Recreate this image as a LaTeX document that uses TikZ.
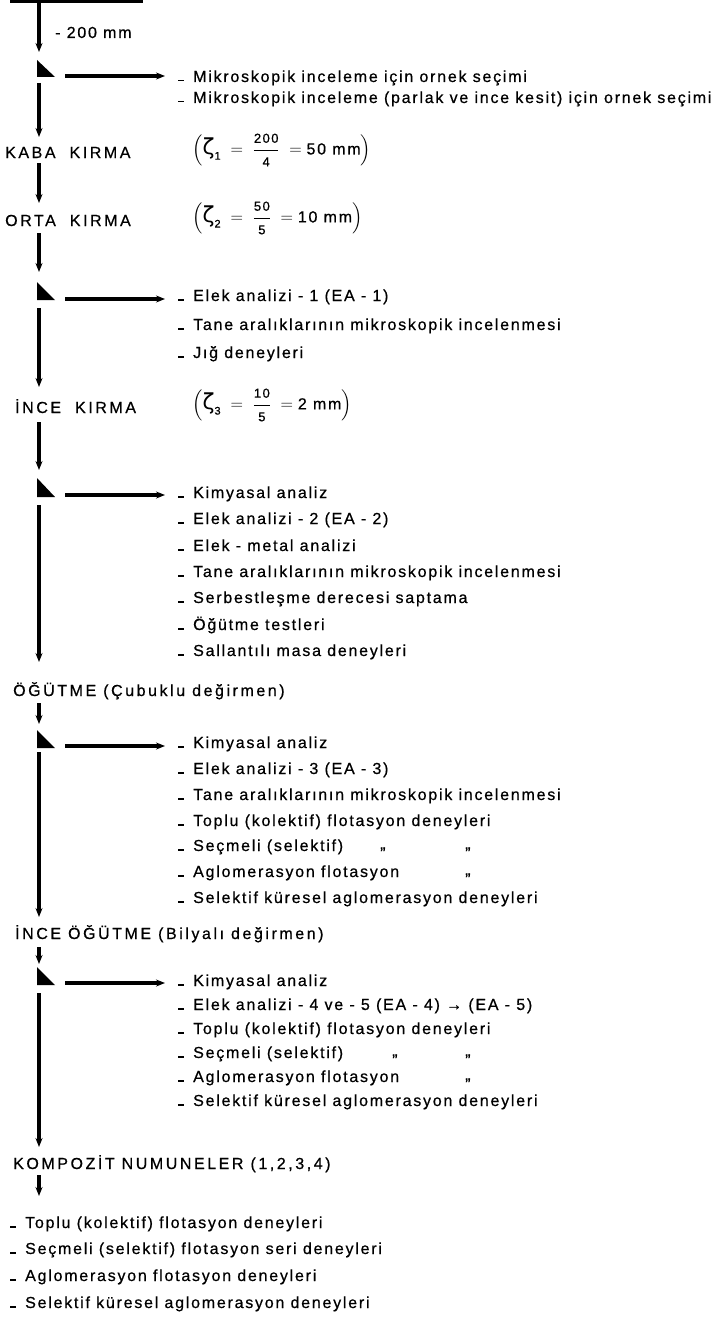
\documentclass[tikz,border=0pt]{standalone}
\usepackage{fontspec}
\usepackage{amsmath}
\setmainfont{Liberation Sans}[LetterSpace=11,FakeBold=0.6]
\newfontfamily\headfont{Liberation Sans}[LetterSpace=16,FakeBold=0.6]
\newfontfamily\grk{DejaVu Sans}
\usetikzlibrary{arrows.meta}
\newcommand\frn[1]{\mbox{\fontsize{13}{13}\selectfont #1}}
\newcommand\sbn[1]{\mbox{\fontsize{11}{11}\selectfont #1}}
\newcommand\zt{\mbox{\grk\fontsize{22}{22}\selectfont ζ}}
\newcommand\dsh{\raisebox{0.5pt}{\rule{6pt}{1.8pt}}\hspace{9pt}}
\begin{document}
\begin{tikzpicture}[x=1pt,y=-1pt,
  flow/.style={line width=3.4pt,-{Stealth[length=9pt,width=7pt]}},
  side/.style={line width=3.2pt,-{Stealth[length=9pt,width=7pt]}},
  item/.style={anchor=base west,inner sep=0pt,font=\fontsize{16}{18}\selectfont},
  head/.style={anchor=base west,inner sep=0pt,font=\headfont\fontsize{16}{18}\selectfont},
  eqn/.style={anchor=west,inner sep=0pt,font=\fontsize{16}{18}\selectfont},
  tri/.style={fill=black}]
\useasboundingbox (0,0) rectangle (722,1319);
% top bar
\coordinate (barL) at (10,1.5);
\coordinate (barR) at (143,1.5);
\draw[line width=3pt] (barL) -- (barR);
% segment A
\coordinate (a0) at (39,0);
\coordinate (a1) at (39,52);
\draw[flow] (a0) -- (a1);
\node[item] (mm) at (55,38) {- 200 mm};
% triangle 1
\fill[tri] (37,60) -- (37,77) -- (55,77) -- cycle;
\coordinate (h1a) at (65,76);
\coordinate (h1b) at (165,76);
\draw[side] (h1a) -- (h1b);
\node[item] (t11) at (178,82) {\dsh Mikroskopik inceleme için ornek seçimi};
\node[item] (t12) at (178,103) {\dsh Mikroskopik inceleme (parlak ve ince kesit) için ornek seçimi};
\coordinate (b0) at (39,83);
\coordinate (b1) at (39,137);
\draw[flow] (b0) -- (b1);
\node[head] (kaba) at (5,158) {KABA~ KIRMA};
\node[eqn] (eq1) at (192,150) {$\left(\zt_{\sbn{1}}\; = \;\dfrac{\frn{200}}{\frn{4}}\; = \mbox{50 mm}\right)$};
\coordinate (c0) at (39,163);
\coordinate (c1) at (39,203);
\draw[flow] (c0) -- (c1);
\node[head] (orta) at (5,226) {ORTA~ KIRMA};
\node[eqn] (eq2) at (192,218) {$\left(\zt_{\sbn{2}}\; = \;\dfrac{\frn{50}}{\frn{5}}\; = \mbox{10 mm}\right)$};
\coordinate (d0) at (39,233);
\coordinate (d1) at (39,272);
\draw[flow] (d0) -- (d1);
% triangle 2
\fill[tri] (37,282) -- (37,300) -- (55,300) -- cycle;
\coordinate (h2a) at (65,299);
\coordinate (h2b) at (165,299);
\draw[side] (h2a) -- (h2b);
\node[item] (t21) at (178,301) {\dsh Elek analizi - 1 (EA - 1)};
\node[item] (t22) at (178,330) {\dsh Tane aralıklarının mikroskopik incelenmesi};
\node[item] (t23) at (178,358) {\dsh Jığ deneyleri};
\coordinate (e0) at (39,308);
\coordinate (e1) at (39,387);
\draw[flow] (e0) -- (e1);
\node[head] (ince) at (15,413) {İNCE~ KIRMA};
\node[eqn] (eq3) at (192,405) {$\left(\zt_{\sbn{3}}\; = \;\dfrac{\frn{10}}{\frn{5}}\; = \mbox{2 mm}\right)$};
\coordinate (f0) at (39,422);
\coordinate (f1) at (39,470);
\draw[flow] (f0) -- (f1);
% triangle 3
\fill[tri] (37,478) -- (37,497) -- (55,497) -- cycle;
\coordinate (h3a) at (65,495);
\coordinate (h3b) at (165,495);
\draw[side] (h3a) -- (h3b);
\node[item] (t31) at (178,498) {\dsh Kimyasal analiz};
\node[item] (t32) at (178,524) {\dsh Elek analizi - 2 (EA - 2)};
\node[item] (t33) at (178,551) {\dsh Elek - metal analizi};
\node[item] (t34) at (178,577) {\dsh Tane aralıklarının mikroskopik incelenmesi};
\node[item] (t35) at (178,603) {\dsh Serbestleşme derecesi saptama};
\node[item] (t36) at (178,630) {\dsh Öğütme testleri};
\node[item] (t37) at (178,656) {\dsh Sallantılı masa deneyleri};
\coordinate (g0) at (39,505);
\coordinate (g1) at (39,662);
\draw[flow] (g0) -- (g1);
\node[head] (ogut) at (13,696) {ÖĞÜTME (Çubuklu değirmen)};
\coordinate (hh0) at (39,703);
\coordinate (hh1) at (39,724);
\draw[flow] (hh0) -- (hh1);
% triangle 4
\fill[tri] (37,730) -- (37,748) -- (55,748) -- cycle;
\coordinate (h4a) at (65,746);
\coordinate (h4b) at (165,746);
\draw[side] (h4a) -- (h4b);
\node[item] (t41) at (178,748) {\dsh Kimyasal analiz};
\node[item] (t42) at (178,774) {\dsh Elek analizi - 3 (EA - 3)};
\node[item] (t43) at (178,800) {\dsh Tane aralıklarının mikroskopik incelenmesi};
\node[item] (t44) at (178,826) {\dsh Toplu (kolektif) flotasyon deneyleri};
\node[item] (t45) at (178,851) {\dsh Seçmeli (selektif)};
\node[item] (t46) at (178,877) {\dsh Aglomerasyon flotasyon};
\node[item] (t47) at (178,903) {\dsh Selektif küresel aglomerasyon deneyleri};
\node[item] (d45a) at (380,849) {,,};
\node[item] (d45b) at (465,849) {,,};
\node[item] (d46b) at (465,875) {,,};
\coordinate (i0) at (39,752);
\coordinate (i1) at (39,917);
\draw[flow] (i0) -- (i1);
\node[head] (inceo) at (15,939) {İNCE ÖĞÜTME (Bilyalı değirmen)};
\coordinate (j0) at (39,947);
\coordinate (j1) at (39,964);
\draw[flow] (j0) -- (j1);
% triangle 5
\fill[tri] (37,967) -- (37,985) -- (55,985) -- cycle;
\coordinate (h5a) at (65,983);
\coordinate (h5b) at (165,983);
\draw[side] (h5a) -- (h5b);
\node[item] (t51) at (178,986) {\dsh Kimyasal analiz};
\node[item] (t52) at (178,1010) {\dsh Elek analizi - 4 ve - 5 (EA - 4) → (EA - 5)};
\node[item] (t53) at (178,1034) {\dsh Toplu (kolektif) flotasyon deneyleri};
\node[item] (t54) at (178,1058) {\dsh Seçmeli (selektif)};
\node[item] (t55) at (178,1082) {\dsh Aglomerasyon flotasyon};
\node[item] (t56) at (178,1106) {\dsh Selektif küresel aglomerasyon deneyleri};
\node[item] (d54a) at (392,1056) {,,};
\node[item] (d54b) at (465,1056) {,,};
\node[item] (d55b) at (465,1080) {,,};
\coordinate (k0) at (39,993);
\coordinate (k1) at (39,1147);
\draw[flow] (k0) -- (k1);
\node[head] (komp) at (13,1169) {KOMPOZİT NUMUNELER (1,2,3,4)};
\coordinate (l0) at (39,1175);
\coordinate (l1) at (39,1196);
\draw[flow] (l0) -- (l1);
\node[item] (t61) at (10,1228) {\dsh Toplu (kolektif) flotasyon deneyleri};
\node[item] (t62) at (10,1254) {\dsh Seçmeli (selektif) flotasyon seri deneyleri};
\node[item] (t63) at (10,1281) {\dsh Aglomerasyon flotasyon deneyleri};
\node[item] (t64) at (10,1308) {\dsh Selektif küresel aglomerasyon deneyleri};
\end{tikzpicture}
\end{document}
